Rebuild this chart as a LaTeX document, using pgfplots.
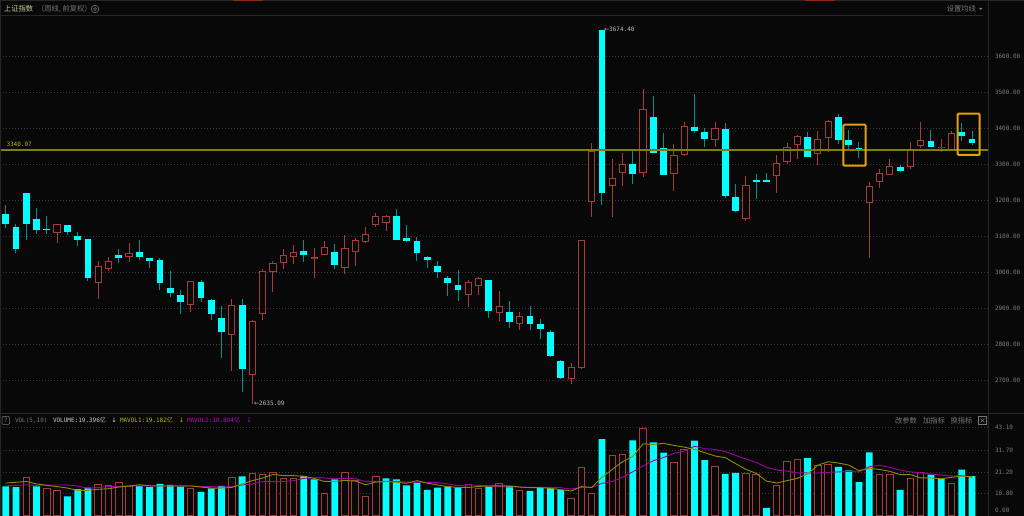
\documentclass[border=0pt]{standalone}
\usepackage{fontspec}
\usepackage{pgfplots}
\usepackage{pgfplotstable}
\pgfplotsset{compat=1.18}
\setmainfont{Liberation Sans}
\newfontfamily\mono{DejaVu Sans Mono}
\newfontfamily\cjk{Noto Sans CJK SC}
\newfontfamily\sym{DejaVu Sans}
\definecolor{bgc}{HTML}{080808}
\definecolor{cyanc}{HTML}{00FFFF}
\definecolor{tealc}{HTML}{009090}
\definecolor{redc}{HTML}{A53C3C}
\definecolor{gridc}{HTML}{383838}
\definecolor{framec}{HTML}{262626}
\definecolor{tickc}{HTML}{7C7C7C}
\definecolor{refc}{HTML}{7F7F00}
\definecolor{ma1c}{HTML}{8C8C00}
\definecolor{ma2c}{HTML}{A000A0}
\definecolor{orangec}{HTML}{E0A010}
\definecolor{stripc}{HTML}{8A2A10}
\definecolor{palec}{HTML}{C8C898}
\definecolor{txtc}{HTML}{767676}
\definecolor{yelc}{HTML}{B8B800}
\definecolor{magc}{HTML}{C000C0}

% candles: i open close high low
\pgfplotstableread{
i o c h l
0 3162.1 3134.3 3188.0 3125.0
1 3126.9 3066.7 3135.2 3055.6
2 3221.3 3134.3 3221.3 3090.8
3 3148.2 3118.6 3178.8 3107.4
4 3121.3 3118.6 3157.5 3108.4
6 3131.5 3112.1 3132.5 3103.7
7 3101.9 3089.9 3112.1 3075.0
8 3092.6 2986.1 3093.6 2977.8
11 3048.2 3039.9 3064.9 3027.8
13 3058.4 3043.6 3090.8 3036.1
14 3039.9 3033.4 3041.7 3013.0
15 3034.3 2972.3 3039.9 2950.9
16 2957.4 2944.5 3005.6 2932.4
17 2938.9 2917.6 2951.9 2884.3
19 2974.1 2930.6 2978.7 2919.5
20 2925.0 2884.3 2926.9 2869.5
21 2874.1 2835.2 2906.5 2763.9
23 2911.1 2731.5 2925.9 2669.5
29 3059.3 3050.0 3090.8 3030.6
32 3058.4 3021.3 3079.7 3010.2
38 3157.5 3091.7 3176.0 3090.8
39 3096.3 3088.0 3132.4 3086.1
40 3087.1 3054.7 3098.2 3032.4
41 3042.6 3035.2 3046.3 3013.0
42 3018.6 3001.0 3032.4 2986.1
43 2984.3 2970.4 2991.7 2935.2
44 2965.8 2951.0 3007.4 2921.3
47 2978.7 2893.5 2979.7 2874.1
49 2889.8 2863.9 2920.4 2846.3
51 2878.7 2857.4 2906.5 2840.8
52 2856.5 2843.5 2870.4 2816.7
53 2834.3 2768.5 2840.8 2766.7
54 2755.6 2706.5 2756.5 2705.6
58 3674.4 3220.4 3674.4 3188.9
61 3301.0 3273.2 3339.8 3247.2
63 3433.4 3333.3 3490.8 3333.3
64 3345.4 3270.4 3388.9 3270.4
67 3403.7 3393.5 3496.3 3388.0
68 3390.8 3371.3 3402.8 3348.2
70 3398.2 3213.9 3415.8 3208.3
71 3211.1 3170.4 3247.2 3169.4
73 3256.5 3254.6 3274.1 3203.7
74 3256.5 3252.8 3275.9 3251.9
78 3376.0 3322.3 3390.8 3321.4
81 3432.5 3367.7 3440.8 3357.5
82 3367.7 3353.8 3396.4 3340.8
83 3345.4 3342.7 3364.0 3318.6
87 3293.6 3281.6 3298.2 3280.6
90 3366.8 3350.1 3396.4 3349.2
93 3390.8 3379.7 3415.8 3366.8
94 3370.5 3361.2 3393.6 3354.7
}\downtable
\pgfplotstableread{
i o c h l
5 3111.2 3134.3 3135.2 3081.5
9 2970.4 3019.5 3031.5 2925.9
10 3009.3 3032.4 3043.6 3003.7
12 3044.5 3054.7 3081.5 3029.7
18 2911.1 2976.0 2976.9 2891.7
22 2825.9 2911.1 2925.9 2726.9
24 2716.7 2866.7 2867.6 2635.09
25 2886.1 3005.6 3009.3 2869.5
26 3002.8 3027.8 3031.5 2946.3
27 3026.9 3048.2 3064.9 3009.3
28 3044.5 3056.5 3076.9 3023.2
30 3039.9 3042.6 3067.6 2986.1
31 3049.1 3070.4 3088.0 3049.1
33 3013.9 3067.6 3104.7 2996.3
34 3058.4 3089.8 3095.4 3017.6
35 3086.1 3106.5 3126.0 3082.4
36 3133.4 3156.5 3164.9 3126.9
37 3138.9 3156.5 3160.2 3116.7
45 2938.9 2973.2 2978.7 2905.6
46 2963.9 2984.3 2988.0 2938.9
48 2888.9 2906.5 2949.1 2866.7
50 2858.4 2880.6 2890.8 2840.8
55 2705.6 2738.0 2748.2 2690.7
56 2736.1 3089.8 3090.8 2731.5
57 3195.4 3337.1 3359.3 3155.6
59 3241.7 3262.0 3314.8 3155.6
60 3277.8 3301.0 3331.5 3240.7
62 3276.9 3453.7 3510.2 3266.7
65 3275.0 3326.9 3357.4 3227.8
66 3327.8 3406.5 3419.5 3325.0
69 3367.6 3400.9 3419.5 3349.1
72 3150.0 3242.6 3268.5 3142.6
75 3269.4 3304.6 3326.9 3221.3
76 3308.3 3348.2 3360.2 3301.0
77 3355.6 3380.6 3381.6 3316.7
79 3328.8 3372.3 3392.7 3299.2
80 3375.1 3421.4 3423.2 3336.2
84 3192.7 3239.9 3251.9 3041.7
85 3252.9 3277.9 3287.1 3236.2
86 3272.3 3295.4 3315.8 3271.4
88 3294.5 3342.7 3362.1 3288.0
89 3352.9 3367.7 3418.6 3346.4
91 3346.4 3349.2 3370.5 3334.3
92 3340.8 3387.1 3392.7 3339.9
}\uptable
% volume bars
\pgfplotstableread{
i v
0 14.3
1 14.0
3 14.3
6 9.5
7 13.0
8 13.7
13 14.6
14 14.0
15 15.5
16 15.0
17 14.2
19 11.6
20 13.4
21 14.5
23 19.2
29 19.3
30 17.7
32 17.7
37 18.2
38 17.7
39 14.8
40 16.1
41 12.6
42 13.7
43 14.3
44 13.8
47 14.2
49 14.6
51 12.2
52 13.8
53 13.7
54 12.6
58 37.2
61 36.5
63 35.6
64 30.6
67 36.4
68 27.0
70 20.3
71 20.9
74 3.9
78 28.0
81 23.7
82 22.1
83 16.4
84 30.75
87 12.6
90 20.0
91 18.0
93 22.4
94 19.3
}\voldown
\pgfplotstableread{
i v
2 18.4
4 13.4
5 12.4
9 15.3
10 14.8
11 16.3
12 14.2
18 13.4
22 18.7
24 20.6
25 20.1
26 21.1
27 18.2
28 18.2
31 11.0
33 21.1
34 17.1
35 9.5
36 19.2
45 15.0
46 13.5
48 15.8
50 12.4
55 8.5
56 23.5
57 11.0
59 29.3
60 29.8
62 42.5
65 25.9
66 31.9
69 24.0
72 20.6
73 20.0
75 14.5
76 26.4
77 27.4
79 24.5
80 25.1
85 20.1
86 20.0
88 18.2
89 21.1
92 15.8
}\volup
% moving averages of volume
\pgfplotstableread{
i a b
0 15.9 14.6
1 16.3 14.8
2 16.7 15.1
3 15.5 14.8
4 14.8 15.0
5 14.2 15.0
6 13.5 15.0
7 12.4 14.5
8 12.4 13.4
9 12.9 13.8
10 13.2 14.2
11 14.0 14.3
12 14.5 14.5
13 15.1 14.5
14 14.6 14.5
15 14.5 14.5
16 14.5 14.5
17 14.5 14.6
18 14.5 14.5
19 14.0 14.2
20 13.5 14.2
21 13.5 14.0
22 13.8 14.3
23 15.5 15.0
24 17.1 15.5
25 18.4 16.6
26 20.1 16.6
27 19.5 16.7
28 19.5 17.1
29 19.2 18.2
30 18.2 18.4
31 16.7 18.4
32 16.7 18.0
33 17.2 18.2
34 16.9 18.0
35 15.1 16.7
36 16.4 16.7
37 16.6 16.7
38 16.3 16.7
39 15.8 16.4
40 17.1 16.4
41 15.9 16.3
42 15.0 16.1
43 14.2 15.5
44 13.8 14.6
45 13.8 15.1
46 14.3 14.8
47 14.5 14.5
48 14.6 14.2
49 14.5 14.0
50 14.0 14.0
51 13.7 13.8
52 13.7 13.8
53 13.4 13.8
54 12.7 13.7
55 12.1 13.0
56 14.2 13.8
57 13.8 13.8
58 18.7 15.8
59 22.5 16.7
60 26.2 18.7
61 28.8 21.4
62 34.9 24.2
63 34.6 26.7
64 35.1 28.3
65 34.1 30.3
66 33.3 31.4
67 32.2 33.7
68 30.6 32.5
69 29.0 32.2
70 28.2 31.1
71 25.3 29.3
72 22.5 27.5
73 20.6 25.9
74 16.9 23.5
75 15.9 22.2
76 17.1 21.7
77 18.2 20.9
78 20.3 20.8
79 24.6 20.8
80 26.2 21.1
81 25.6 21.3
82 24.6 21.6
83 21.9 21.3
84 23.0 23.8
85 22.5 24.5
86 21.6 23.5
87 20.0 22.2
88 20.0 21.3
89 18.4 20.9
90 18.4 20.3
91 18.0 19.8
92 18.7 19.3
93 19.3 19.5
94 19.0 18.8
}\matable

\pgfplotsset{
  wick/.style={draw=none, no markers, forget plot,
    error bars/.cd, y dir=both, y explicit, error mark=none,
    error bar style={draw=#1, line width=1pt, line cap=butt, line join=bevel}},
  body/.style 2 args={draw=none, no markers, forget plot,
    error bars/.cd, y dir=both, y explicit, error mark=none,
    error bar style={draw=#1, line width=#2, line cap=butt, line join=bevel}},
}
\newcommand{\mf}{\mono\fontsize{6}{7}\selectfont}
\newcommand{\cf}{\cjk\fontsize{7.3}{8}\selectfont}

\begin{document}
\begin{tikzpicture}[x=1pt,y=1pt,every node/.style={inner sep=0pt,outer sep=0pt}]
\path[use as bounding box] (0,0) rectangle (1024,516);
\fill[bgc] (0,0) rectangle (1024,516);

% ---------- price panel
\begin{axis}[
  at={(0pt,103pt)}, anchor=south west, scale only axis,
  width=988pt, height=413pt,
  xmin=-0.554, xmax=95.55, ymin=2610.2, ymax=3757.5,
  hide x axis, axis y line=right,
  y axis line style={draw=framec,-},
  ytick={2700,2800,2900,3000,3100,3200,3300,3400,3500,3600},
  ymajorgrids, grid style={line width=0.6pt, dash pattern=on 1pt off 2pt, color=gridc},
  major tick length=0pt,
  /pgf/number format/assume math mode=true,
  yticklabel={\pgfmathprintnumber[fixed,fixed zerofill,precision=2,1000 sep={}]{\tick}},
  yticklabel style={font=\mf, text=tickc, xshift=7pt},
  clip=false,
]
\addplot[wick=tealc] table[x=i, y expr={(\thisrow{h}+\thisrow{l})/2}, y error expr={(\thisrow{h}-\thisrow{l})/2}] {\downtable};
\addplot[wick=redc] table[x=i, y expr={(\thisrow{h}+\thisrow{l})/2}, y error expr={(\thisrow{h}-\thisrow{l})/2}] {\uptable};
\addplot[body={redc}{7.2pt}] table[x=i, y expr={(\thisrow{o}+\thisrow{c})/2}, y error expr={max((\thisrow{c}-\thisrow{o})/2,1.4)}] {\uptable};
\addplot[body={bgc}{5.2pt}] table[x=i, y expr={(\thisrow{o}+\thisrow{c})/2}, y error expr={max((\thisrow{c}-\thisrow{o})/2-2.8,0.001)}] {\uptable};
\addplot[body={cyanc}{6.8pt}] table[x=i, y expr={(\thisrow{o}+\thisrow{c})/2}, y error expr={max((\thisrow{o}-\thisrow{c})/2,1.4)}] {\downtable};
\addplot[refc, line width=1.6pt, forget plot] coordinates {(-0.554,3340.07) (95.55,3340.07)};
\end{axis}

% ---------- volume panel
\begin{axis}[
  at={(0pt,0pt)}, anchor=south west, scale only axis,
  width=988pt, height=102pt,
  xmin=-0.554, xmax=95.55, ymin=0, ymax=49.3,
  hide x axis, axis y line=right,
  y axis line style={draw=framec,-},
  ytick={10.8,21.2,31.7,43.1},
  extra y ticks={2.6}, extra y tick labels={0.00},
  extra tick style={grid=none},
  ymajorgrids, grid style={line width=0.6pt, dash pattern=on 1pt off 2pt, color=gridc},
  major tick length=0pt,
  /pgf/number format/assume math mode=true,
  yticklabel={\pgfmathprintnumber[fixed,fixed zerofill,precision=2]{\tick}},
  yticklabel style={font=\mf, text=tickc, xshift=7pt},
  clip=true,
]
\addplot[ybar, bar shift=0pt, bar width=6.5pt, fill=bgc, draw=redc, line width=1pt, forget plot] table[x=i, y=v] {\volup};
\addplot[ybar, bar shift=0pt, bar width=6.8pt, fill=cyanc, draw=none, forget plot] table[x=i, y=v] {\voldown};
\addplot[ma2c, line width=0.9pt, forget plot] table[x=i, y=b] {\matable};
\addplot[ma1c, line width=0.9pt, forget plot] table[x=i, y=a] {\matable};
\end{axis}

% ---------- frame and header strips
\draw[framec, line width=0.8pt] (0,516-15) -- (983,516-15);
\draw[framec, line width=0.8pt] (0,516-413.5) -- (1024,516-413.5);
\draw[framec, line width=0.8pt] (0.5,0) -- (0.5,516);
\fill[framec] (0,514.7) rectangle (1024,516);
\fill[stripc] (233,514.7) rectangle (263,516);
\fill[stripc] (805,514.7) rectangle (835,516);

% ---------- highlight boxes
\draw[orangec, line width=2pt, rounded corners=1pt] (843.3,516-124.7) rectangle (865.7,516-165.7);
\draw[orangec, line width=2pt, rounded corners=1pt] (957.7,516-113.7) rectangle (979.7,516-155);

% ---------- text
\node[anchor=west, text=palec, font=\cf] at (4,516-9) {上证指数};
\node[anchor=west, text=txtc, font=\cf] at (37,516-9) {（周线, 前复权）};
\draw[txtc, line width=0.6pt] (95,516-9) circle (3.8);
\draw[txtc, line width=0.6pt] (95,516-9) circle (1.5);
\node[anchor=east, text=txtc, font=\cf] at (976,516-9) {设置均线};
\fill[txtc] (979,516-8) -- (982.5,516-8) -- (980.75,516-10) -- cycle;
\node[anchor=west, text=yelc, font=\mf] at (6.5,516-144) {3340.07};
\node[anchor=west, text=white!75!black, font=\mf] at (604,516-29.3) {{\sym\fontsize{6.2}{7}\selectfont ←}3674.40};
\node[anchor=west, text=white!75!black, font=\mf] at (254,516-403) {{\sym\fontsize{6.2}{7}\selectfont ←}2635.09};
% volume header
\draw[txtc, line width=0.5pt, rounded corners=1pt] (2,516-416.5) rectangle (9.5,516-424.5);
\node[text=txtc, font=\mf] at (5.7,516-420.5) {?};
\node[anchor=west, text=txtc, font=\mf] at (15,516-420.5) {VOL(5,10)};
\node[anchor=west, text=white!80!black, font=\mf] at (53,516-420.5) {VOLUME:19.396{\cjk 亿}};
\node[text=white!80!black, font=\sym\fontsize{6.5}{7}\selectfont] at (114,516-420.5) {↓};
\node[anchor=west, text=yelc, font=\mf] at (120,516-420.5) {MAVOL1:19.182{\cjk 亿}};
\node[text=yelc, font=\sym\fontsize{6.5}{7}\selectfont] at (181.5,516-420.5) {↓};
\node[anchor=west, text=magc, font=\mf] at (187,516-420.5) {MAVOL2:18.804{\cjk 亿}};
\node[text=magc, font=\sym\fontsize{6.5}{7}\selectfont] at (249,516-420.5) {↓};
\node[anchor=west, text=txtc, font=\cf] at (895,516-420.5) {改参数};
\node[anchor=west, text=txtc, font=\cf] at (923,516-420.5) {加指标};
\node[anchor=west, text=txtc, font=\cf] at (950.5,516-420.5) {换指标};
\draw[txtc, line width=0.5pt] (978.5,516-416.5) rectangle (986.5,516-424.5);
\draw[txtc, line width=0.5pt] (980.5,516-418.5) -- (984.5,516-422.5) (980.5,516-422.5) -- (984.5,516-418.5);
\end{tikzpicture}
\end{document}
